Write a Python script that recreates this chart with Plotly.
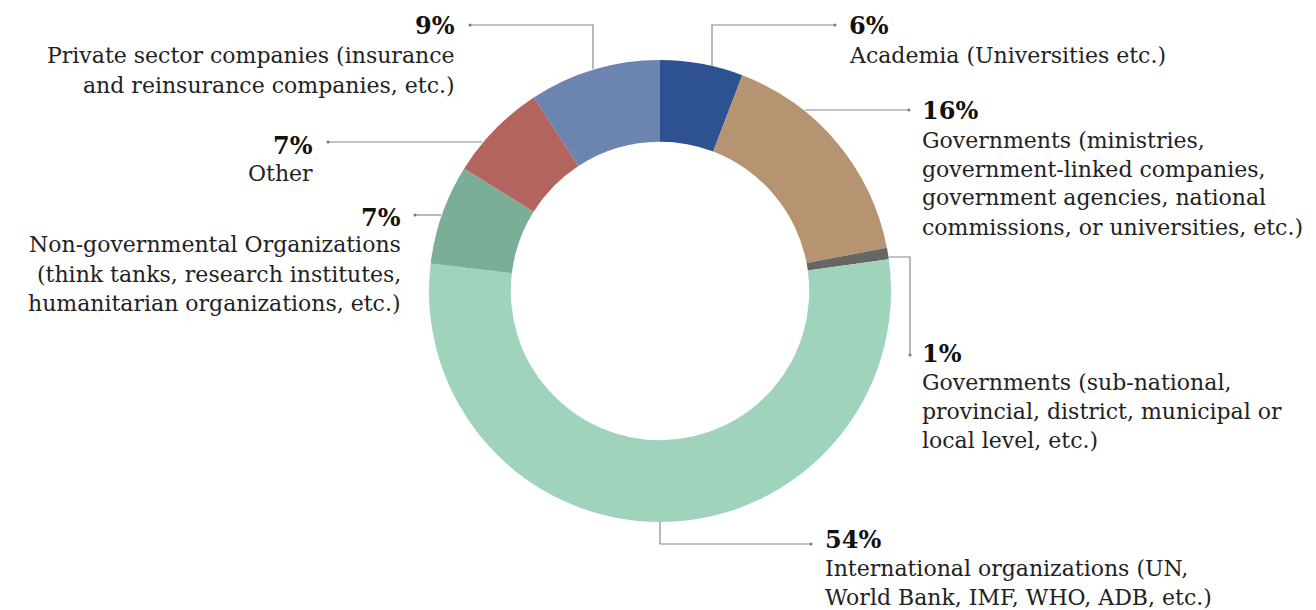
import plotly.graph_objects as go

# page body has an 8px margin; figure is sized to fit the remaining viewport
OFF = 8
W, H = 1316 - OFF, 610 - OFF

categories = [
    "Academia (Universities etc.)",
    "Governments (ministries, government-linked companies, government agencies, national commissions, or universities, etc.)",
    "Governments (sub-national, provincial, district, municipal or local level, etc.)",
    "International organizations (UN, World Bank, IMF, WHO, ADB, etc.)",
    "Non-governmental Organizations (think tanks, research institutes, humanitarian organizations, etc.)",
    "Other",
    "Private sector companies (insurance and reinsurance companies, etc.)",
]
values = [5.8, 16.2, 0.8, 54.1, 7.0, 6.9, 9.2]
pct_labels = ["6%", "16%", "1%", "54%", "7%", "7%", "9%"]
label_lines = [
    ["Academia (Universities etc.)"],
    ["Governments (ministries,", "government-linked companies,",
     "government agencies, national", "commissions, or universities, etc.)"],
    ["Governments (sub-national,", "provincial, district, municipal or", "local level, etc.)"],
    ["International organizations (UN,", "World Bank, IMF, WHO, ADB, etc.)"],
    ["Non-governmental Organizations", "(think tanks, research institutes,",
     "humanitarian organizations, etc.)"],
    ["Other"],
    ["Private sector companies (insurance", "and reinsurance companies, etc.)"],
]
colors = ["#2e5291", "#b69472", "#666666", "#9fd3bc", "#7aae97", "#b4645f", "#6c85b0"]

# label block layout: (x anchor px, align, pct center y px, first desc line center y px)
label_pos = [
    (847, "left", 26, 55),
    (920, "left", 110, 140),
    (920, "left", 353, 382),
    (823, "left", 539, 568),
    (403, "right", 217, 245),
    (315, "right", 145, 173),
    (457, "right", 26, 56),
]
# leader line paths (screen pixel coords), last point gets a dot
leaders = [
    [(712, 66), (712, 25), (835, 25)],
    [(805, 110), (909, 110)],
    [(889, 257), (910, 257), (910, 355)],
    [(660, 522), (660, 544), (811, 544)],
    [(441, 215), (415, 215)],
    [(482, 142), (328, 142)],
    [(593, 69), (593, 25), (470, 25)],
]

cx, cy, R = 660, 291, 231
LINE_H = 29
FONT = "DejaVu Serif"

def px(x, y):
    return (x - OFF) / W, 1 - (y - OFF) / H

dx0, dy0 = px(cx - R, cy + R)
dx1, dy1 = px(cx + R, cy - R)

fig = go.Figure(go.Pie(
    labels=categories, values=values, sort=False, direction="clockwise",
    rotation=0, hole=0.646, textinfo="none", hoverinfo="label+percent",
    marker=dict(colors=colors, line=dict(width=0)),
    domain=dict(x=[dx0, dx1], y=[dy0, dy1]),
    showlegend=False,
))

annotations = []
for pct, lines, (ax, align, py, ly) in zip(pct_labels, label_lines, label_pos):
    xa = "left" if align == "left" else "right"
    x, y = px(ax, py)
    annotations.append(dict(x=x, y=y, xref="paper", yref="paper", text=f"<b>{pct}</b>",
                            showarrow=False, xanchor=xa, yanchor="middle", align=align,
                            font=dict(family=FONT, size=24, color="#111111")))
    for i, t in enumerate(lines):
        x, y = px(ax, ly + i * LINE_H)
        annotations.append(dict(x=x, y=y, xref="paper", yref="paper", text=t,
                                showarrow=False, xanchor=xa, yanchor="middle", align=align,
                                font=dict(family=FONT, size=22, color="#222222")))

shapes = []
for pts in leaders:
    path = "M " + " L ".join(f"{px(x, y)[0]},{px(x, y)[1]}" for x, y in pts)
    shapes.append(dict(type="path", path=path, xref="paper", yref="paper",
                       line=dict(color="#8a8a8a", width=1.2)))
    ex, ey = pts[-1]
    x0, y0 = px(ex - 1.5, ey + 1.5)
    x1, y1 = px(ex + 1.5, ey - 1.5)
    shapes.append(dict(type="circle", x0=x0, y0=y0, x1=x1, y1=y1, xref="paper", yref="paper",
                       fillcolor="#777777", line=dict(width=0)))

fig.update_layout(
    width=W, height=H, margin=dict(l=0, r=0, t=0, b=0),
    paper_bgcolor="white", plot_bgcolor="white",
    annotations=annotations, shapes=shapes,
)
fig.write_html("out.html")
